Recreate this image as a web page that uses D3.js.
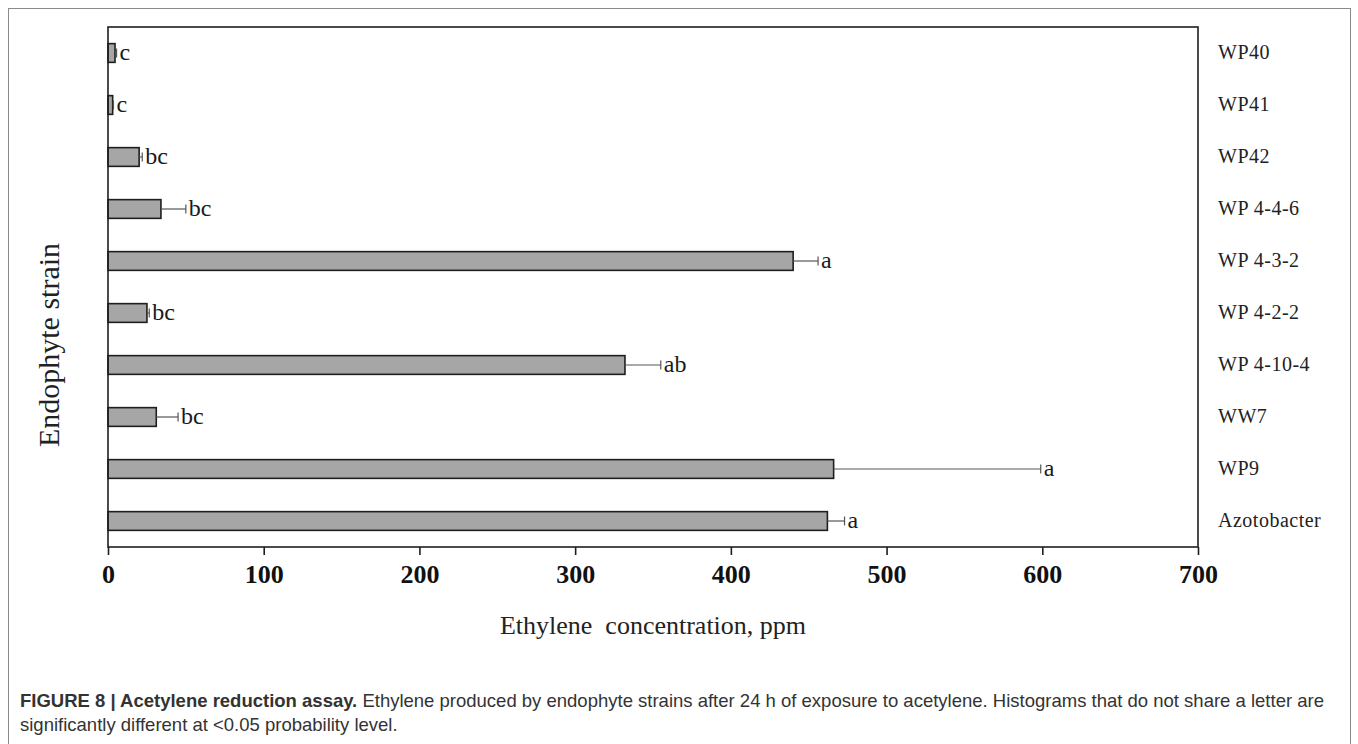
<!DOCTYPE html>
<html>
<head>
<meta charset="utf-8">
<script src="https://cdn.jsdelivr.net/npm/d3@7"></script>
<style>
  body { margin: 0; background: #fff; }
  svg { display: block; }
</style>
</head>
<body>
<svg id="chart" width="1358" height="744"></svg>
<script>
// values (ppm)
var strains = ["WP40", "WP41", "WP42", "WP 4-4-6", "WP 4-3-2", "WP 4-2-2", "WP 4-10-4", "WW7", "WP9", "Azotobacter"];
var meanValues = [4.5, 3, 20, 34, 440, 25, 332, 31, 466, 462];
var errValues = [1, 0.5, 2, 16, 16, 1.5, 23, 14, 133, 11];
var letters = ["c", "c", "bc", "bc", "a", "bc", "ab", "bc", "a", "a"];
var xTicks = [0, 100, 200, 300, 400, 500, 600, 700];

function drawChart(){
	var svg = d3.select("#chart");
	var serif = "'Liberation Serif', 'Times New Roman', serif";

	var plotLeft = 108, plotRight = 1198, plotTop = 27, plotBottom = 547;

	var x = d3.scaleLinear().domain([0, 700]).range([plotLeft, plotRight]);
	var y = d3.scaleBand().domain(strains).range([plotTop, plotBottom])
		.paddingInner(0.64).paddingOuter(0.32);

	// outer figure frame
	svg.append("rect")
		.attr("x", 8.5).attr("y", 8.5)
		.attr("width", 1342).attr("height", 760)
		.attr("fill", "none")
		.attr("stroke", "#8a8a8a")
		.attr("stroke-width", 1);

	var rows = strains.map(function(s, i){
		return {name: s, mean: meanValues[i], err: errValues[i], letter: letters[i]};
	});

	// bars
	svg.selectAll("rect.bar")
		.data(rows)
		.enter()
		.append("rect")
		.attr("class", "bar")
		.attr("x", x(0))
		.attr("y", function(d){ return y(d.name); })
		.attr("width", function(d){ return x(d.mean) - x(0); })
		.attr("height", y.bandwidth())
		.attr("fill", "#a6a6a6")
		.attr("stroke", "#1e1e1e")
		.attr("stroke-width", 1.6);

	// error bars (one-sided, cap at the end)
	var eb = svg.selectAll("g.err")
		.data(rows)
		.enter()
		.append("g")
		.attr("class", "err");

	function mid(d){ return y(d.name) + y.bandwidth() / 2; }

	eb.append("line")
		.attr("x1", function(d){ return x(d.mean); })
		.attr("x2", function(d){ return x(d.mean + d.err); })
		.attr("y1", mid)
		.attr("y2", mid)
		.attr("stroke", "#555")
		.attr("stroke-width", 1.2);

	eb.append("line")
		.attr("x1", function(d){ return x(d.mean + d.err); })
		.attr("x2", function(d){ return x(d.mean + d.err); })
		.attr("y1", function(d){ return mid(d) - 4.5; })
		.attr("y2", function(d){ return mid(d) + 4.5; })
		.attr("stroke", "#555")
		.attr("stroke-width", 1.2);

	// significance letters
	svg.selectAll("text.letter")
		.data(rows)
		.enter()
		.append("text")
		.attr("class", "letter")
		.attr("x", function(d){ return x(d.mean + d.err) + 3; })
		.attr("y", mid)
		.attr("dy", "0.3em")
		.attr("font-family", serif)
		.attr("font-size", 24)
		.attr("fill", "#1a1a1a")
		.text(function(d){ return d.letter; });

	// plot frame
	svg.append("rect")
		.attr("x", plotLeft).attr("y", plotTop)
		.attr("width", plotRight - plotLeft).attr("height", plotBottom - plotTop)
		.attr("fill", "none")
		.attr("stroke", "#1e1e1e")
		.attr("stroke-width", 1.6);

	// x axis
	var xAxis = svg.append("g")
		.attr("transform", "translate(0," + plotBottom + ")")
		.call(d3.axisBottom(x).tickValues(xTicks).tickSize(8).tickSizeOuter(0).tickPadding(10));
	xAxis.select(".domain").remove();
	xAxis.selectAll(".tick line").attr("stroke", "#1e1e1e").attr("stroke-width", 1.6);
	xAxis.selectAll(".tick text")
		.attr("font-family", serif)
		.attr("font-weight", "bold")
		.attr("font-size", 26)
		.attr("fill", "#111");

	// category labels on the right
	var yAxis = svg.append("g")
		.attr("transform", "translate(" + plotRight + ",0)")
		.call(d3.axisRight(y).tickSize(0).tickPadding(20));
	yAxis.select(".domain").remove();
	yAxis.selectAll(".tick text")
		.attr("font-family", serif)
		.attr("font-size", 20)
		.attr("letter-spacing", "0.5px")
		.attr("fill", "#222");

	// axis titles
	svg.append("text")
		.attr("x", 653).attr("y", 625)
		.attr("dy", "0.35em")
		.attr("text-anchor", "middle")
		.attr("font-family", serif)
		.attr("font-size", 26)
		.attr("fill", "#222")
		.attr("xml:space", "preserve")
		.text("Ethylene  concentration, ppm");

	svg.append("text")
		.attr("transform", "translate(48,345) rotate(-90)")
		.attr("dy", "0.35em")
		.attr("text-anchor", "middle")
		.attr("font-family", serif)
		.attr("font-size", 30)
		.attr("fill", "#222")
		.text("Endophyte strain");

	// caption
	var cap = svg.append("g")
		.attr("font-family", "'Liberation Sans', Arial, sans-serif")
		.attr("font-size", 18.5)
		.attr("fill", "#333");

	var line1 = cap.append("text").attr("x", 20).attr("y", 707);
	line1.append("tspan").attr("font-weight", "bold").text("FIGURE 8 | Acetylene reduction assay.");
	line1.append("tspan").text(" Ethylene produced by endophyte strains after 24 h of exposure to acetylene. Histograms that do not share a letter are");

	cap.append("text").attr("x", 20).attr("y", 731)
		.text("significantly different at <0.05 probability level.");
}

drawChart();
</script>
</body>
</html>
